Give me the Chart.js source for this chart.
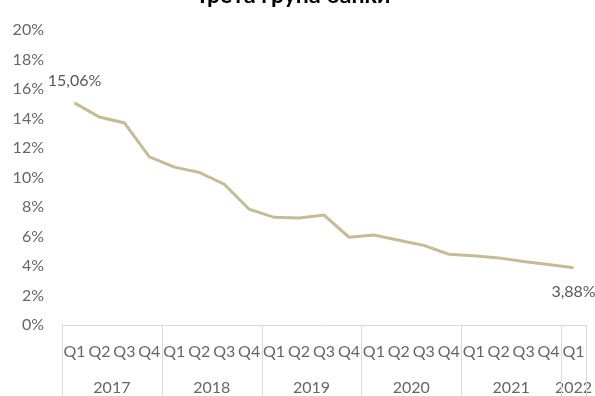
<!DOCTYPE html>
<html>
<head>
<meta charset="utf-8">
<script src="https://cdn.jsdelivr.net/npm/chart.js@4"></script>
<style>
  html, body { margin: 0; padding: 0; background: #fff; overflow: hidden; }
  #wrap { position: absolute; left: 0; top: -18px; width: 595px; height: 414px; }
</style>
</head>
<body>
<div id="wrap"><canvas id="grafika"></canvas></div>
<script>
// data
const quarters = ['Q1','Q2','Q3','Q4','Q1','Q2','Q3','Q4','Q1','Q2','Q3','Q4',
                  'Q1','Q2','Q3','Q4','Q1','Q2','Q3','Q4','Q1'];
const years = ['2017', '2018', '2019', '2020', '2021', '2022'];
const quartersPerYear = [4, 4, 4, 4, 4, 1];
const values = [15.06, 14.1, 13.7, 11.4, 10.7, 10.35, 9.55, 7.85, 7.3, 7.25, 7.45,
                5.95, 6.1, 5.75, 5.4, 4.8, 4.7, 4.55, 4.3, 4.1, 3.88];
const labelledPoints = [0, 20];
const yTicks = [0, 2, 4, 6, 8, 10, 12, 14, 16, 18, 20];

const textColor = '#666666';
const fontFamily = 'Lato, "Liberation Sans", sans-serif';

// year row + dividers under the quarter labels
const yearAxisPlugin = {
    id: 'yearAxis',
    afterDraw(chart) {
        const ctx = chart.ctx;
        const x = chart.scales.x;
        const area = chart.chartArea;
        const bottom = chart.height;
        ctx.save();
        ctx.strokeStyle = '#d9d9d9';
        ctx.lineWidth = 1;
        let start = 0;
        const edges = [area.left];
        quartersPerYear.forEach((n, k) => {
            const first = start, last = start + n - 1;
            const right = last < quarters.length - 1
                ? (x.getPixelForValue(last) + x.getPixelForValue(last + 1)) / 2
                : area.right;
            edges.push(right);
            ctx.fillStyle = textColor;
            ctx.font = '16px ' + fontFamily;
            ctx.textAlign = 'center';
            ctx.textBaseline = 'middle';
            ctx.fillText(years[k], (x.getPixelForValue(first) + x.getPixelForValue(last)) / 2, area.bottom + 63);
            start += n;
        });
        edges.forEach(px => {
            ctx.beginPath();
            ctx.moveTo(Math.round(px) + 0.5, area.bottom);
            ctx.lineTo(Math.round(px) + 0.5, bottom);
            ctx.stroke();
        });
        ctx.restore();
    }
};

// value labels on the first and last point
const pointLabelPlugin = {
    id: 'pointLabels',
    afterDatasetsDraw(chart) {
        const ctx = chart.ctx;
        const meta = chart.getDatasetMeta(0);
        ctx.save();
        ctx.fillStyle = '#595959';
        ctx.font = '16px ' + fontFamily;
        ctx.textAlign = 'center';
        ctx.textBaseline = 'middle';
        labelledPoints.forEach(i => {
            const p = meta.data[i];
            const txt = values[i].toFixed(2).replace('.', ',') + '%';
            const dy = i === 0 ? -22 : 24;
            ctx.fillText(txt, p.x, p.y + dy);
        });
        ctx.restore();
    }
};

const ctx = document.getElementById('grafika').getContext('2d');
new Chart(ctx, {
    type: 'line',
    data: {
        labels: quarters,
        datasets: [{
            data: values,
            borderColor: '#c4bc96',
            borderWidth: 3,
            pointRadius: 0,
            tension: 0,
            fill: false
        }]
    },
    options: {
        responsive: true,
        maintainAspectRatio: false,
        animation: false,
        layout: { padding: { left: 0, right: 9, top: 0, bottom: 0 } },
        plugins: {
            legend: { display: false },
            tooltip: { enabled: false },
            title: {
                display: true,
                text: 'Трета група банки',
                color: '#000',
                font: { family: fontFamily, size: 23, weight: 'bold' },
                padding: { top: 0, bottom: 20.4 }
            }
        },
        scales: {
            x: {
                offset: true,
                grid: { display: false },
                border: { display: true, color: '#d9d9d9', width: 1 },
                ticks: {
                    color: textColor,
                    font: { family: fontFamily, size: 16 },
                    autoSkip: false,
                    maxRotation: 0,
                    padding: 9
                },
                afterFit(scale) { scale.height = 71; }
            },
            y: {
                min: 0,
                max: 20,
                afterBuildTicks(scale) { scale.ticks = yTicks.map(v => ({ value: v })); },
                grid: { display: false },
                border: { display: false },
                ticks: {
                    color: textColor,
                    font: { family: fontFamily, size: 16 },
                    padding: 10,
                    callback: v => v + '%'
                },
                afterFit(scale) { scale.width = 62; }
            }
        }
    },
    plugins: [yearAxisPlugin, pointLabelPlugin]
});
</script>
</body>
</html>
